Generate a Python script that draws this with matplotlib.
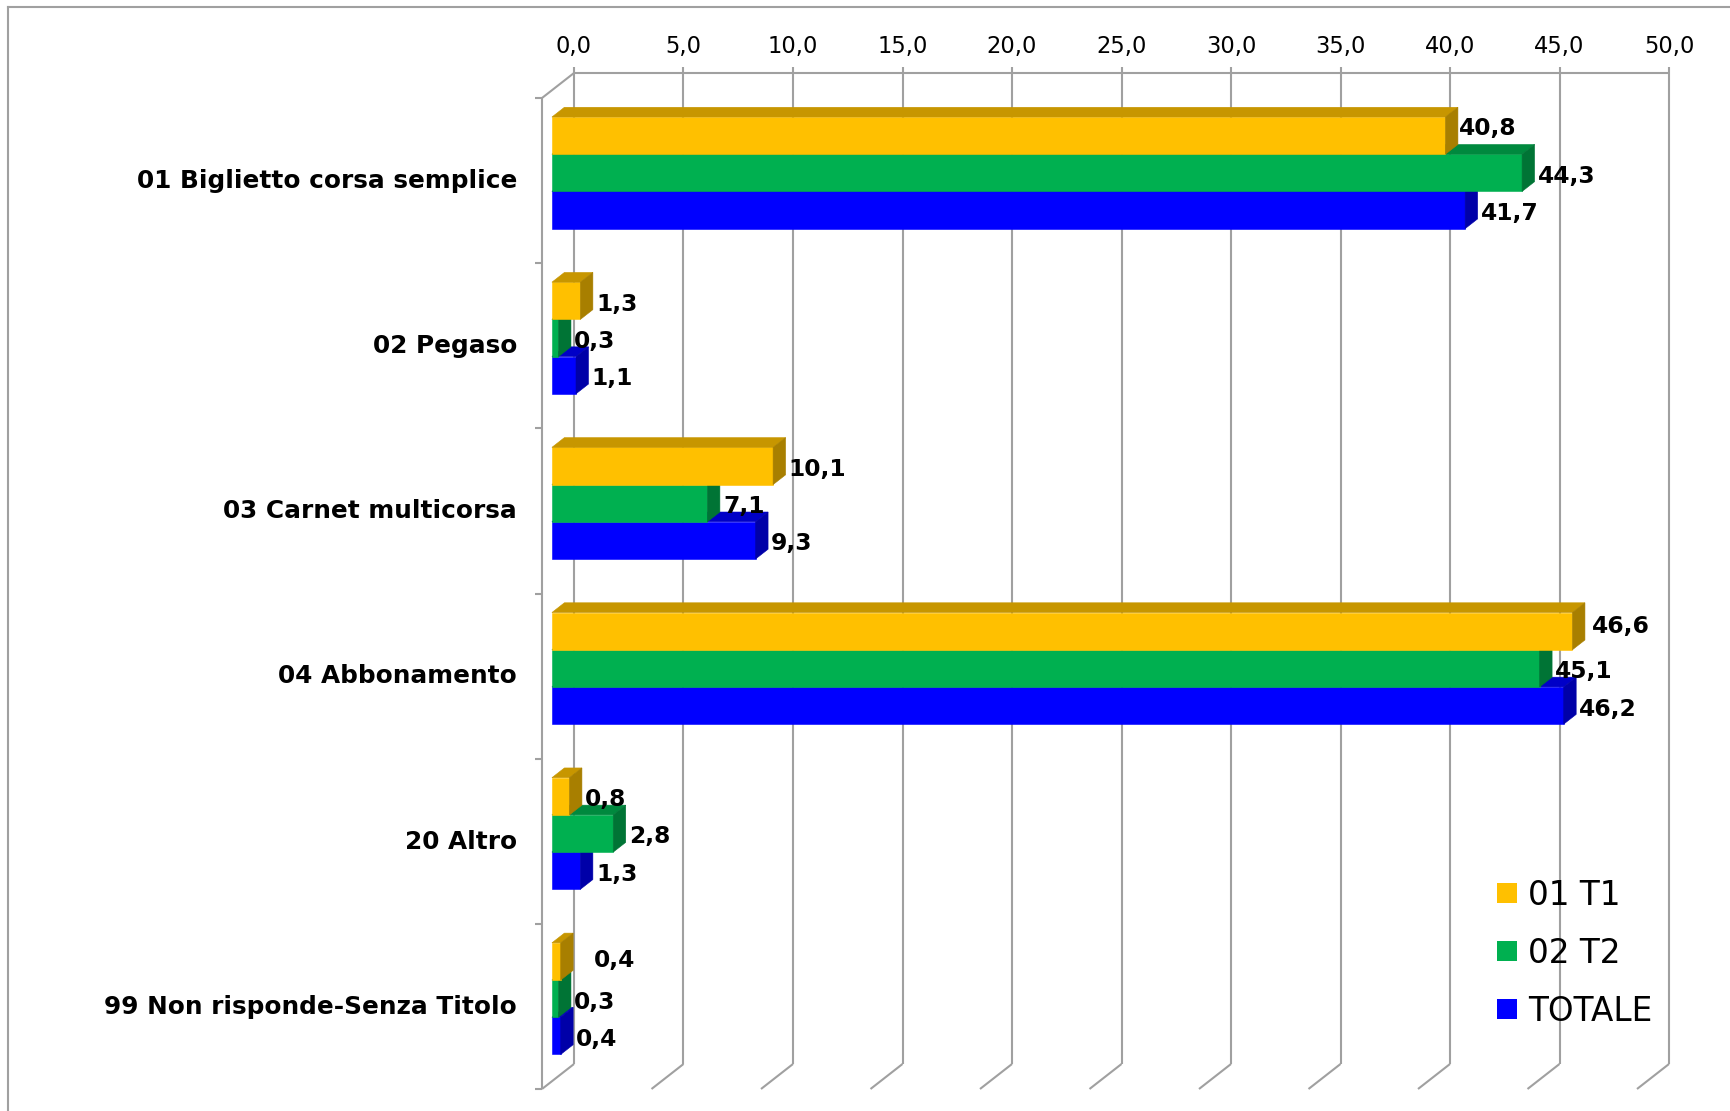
import numpy as np
import matplotlib
matplotlib.use("Agg")
from matplotlib import pyplot as plt
from matplotlib.patches import Polygon, Rectangle
from matplotlib.lines import Line2D
from matplotlib.colors import to_rgb

# ---- data ------------------------------------------------------------------
categories = ["01 Biglietto corsa semplice", "02 Pegaso", "03 Carnet multicorsa",
              "04 Abbonamento", "20 Altro", "99 Non risponde-Senza Titolo"]
series_names = ["01 T1", "02 T2", "TOTALE"]
t1 = [40.8, 1.3, 10.1, 46.6, 0.8, 0.4]
t2 = [44.3, 0.3, 7.1, 45.1, 2.8, 0.3]
totale = [41.7, 1.1, 9.3, 46.2, 1.3, 0.4]
tick_values = [0, 5, 10, 15, 20, 25, 30, 35, 40, 45, 50]

# ---- style -----------------------------------------------------------------
COLORS = ["#FFC000", "#00B050", "#0000FF"]
GRID = "#A0A0A0"
W, H = 1731, 1111
PX_X = 21.9            # pixels per percentage point
PX_Y = 991 / 6         # pixels per category slot
DX, DY = 32 / PX_X, -25 / PX_Y     # depth of the 3d box, data units
F0, F1 = 0.31, 0.70                 # bar front / back depth fraction
BH = 37.2 / PX_Y                    # single bar thickness
# label nudges (points) for a few labels that sit off the default spot
LABEL_NUDGE = {(0, 0): (-1.5, 7.5), (3, 0): (3.0, 6.0), (5, 0): (13.0, 3.0)}

plt.rcParams["font.family"] = ["DejaVu Sans"]


def shade(c, k):
    r, g, b = to_rgb(c)
    return (r * k, g * k, b * k)


def fmt(v):
    return f"{v:.1f}".replace(".", ",")


fig = plt.figure(figsize=(W / 100, H / 100), dpi=100)
fig.patch.set_facecolor("white")
ax = fig.add_axes([542 / W, 1 - 1089 / H, 50 * PX_X / W, 991 / H])
ax.set_xlim(0, 50)
ax.set_ylim(5.5, -0.5)
ax.axis("off")

# outer frame (top and left edges visible)
fig.add_artist(Line2D([8 / W, 1], [1 - 7 / H, 1 - 7 / H], color=GRID, lw=1.5))
fig.add_artist(Line2D([8 / W, 8 / W], [0, 1 - 7 / H], color=GRID, lw=1.5))

# ---- 3d box: back wall gridlines, floor diagonals, left edge ----------------
ytop_back = -0.5 + DY
ybot_back = 5.5 + DY
gkw = dict(color=GRID, lw=1.5, clip_on=False, zorder=1, solid_capstyle="butt")
for v in tick_values:
    ax.plot([v + DX, v + DX], [ytop_back - 6 / PX_Y, ybot_back], **gkw)
    ax.plot([v + DX, v], [ybot_back, 5.5], **gkw)
    ax.annotate(fmt(v), (v + DX, ytop_back), xytext=(0, 14.4),
                textcoords="offset points", ha="center", va="baseline",
                fontsize=16.3, color="black", annotation_clip=False)
ax.plot([DX, 50 + DX], [ytop_back, ytop_back], **gkw)
ax.plot([0, DX], [-0.5, ytop_back], **gkw)
ax.plot([0, 0], [-0.5, 5.5], **gkw)
for b in np.arange(-0.5, 5.6, 1.0):
    ax.plot([0, -7 / PX_X], [b, b], **gkw)

# ---- category labels ----------------------------------------------------------
for i, cat in enumerate(categories):
    ax.annotate(cat, (0, i), xytext=(-18, -5.3), textcoords="offset points",
                ha="right", va="baseline", fontsize=17.8, fontweight="bold",
                annotation_clip=False)

# ---- bars -------------------------------------------------------------------------
values = [t1, t2, totale]
ddx, ddy = (F1 - F0) * DX, (F1 - F0) * DY
for i in range(len(categories)):
    for j in reversed(range(len(values))):
        v = values[j][i]
        c = COLORS[j]
        y0 = i - 1.5 * BH + j * BH + F0 * DY
        y1 = y0 + BH
        x0 = F0 * DX
        x1 = v + F0 * DX
        pkw = dict(clip_on=False, zorder=3, lw=0.4)
        ax.add_patch(Rectangle((x0, y0), x1 - x0, BH, fc=c, ec=c, **pkw))
        top = shade(c, 0.78)
        ax.add_patch(Polygon([(x0, y0), (x1, y0), (x1 + ddx, y0 + ddy),
                              (x0 + ddx, y0 + ddy)], closed=True, fc=top, ec=top, **pkw))
        side = shade(c, 0.66)
        ax.add_patch(Polygon([(x1, y0), (x1 + ddx, y0 + ddy), (x1 + ddx, y1 + ddy),
                              (x1, y1)], closed=True, fc=side, ec=side, **pkw))
        nx, ny = LABEL_NUDGE.get((i, j), (0, 0))
        ax.annotate(fmt(v), (x1 + ddx, (y0 + y1) / 2), xytext=(2.2 + nx, -7.2 + ny),
                    textcoords="offset points", ha="left", va="baseline",
                    fontsize=16.8, fontweight="bold", zorder=4, annotation_clip=False)

# ---- legend ---------------------------------------------------------------------------
for k, name in enumerate(series_names):
    cy = 893 + 58.2 * k
    fig.add_artist(Rectangle((1497 / W, 1 - (cy + 10) / H), 20 / W, 20 / H,
                             transform=fig.transFigure, fc=COLORS[k], ec="none"))
    fig.text(1528 / W, 1 - (cy + 12) / H, name, ha="left", va="baseline",
             fontsize=23.5, color="black")

fig.savefig("out.png", dpi=100)
